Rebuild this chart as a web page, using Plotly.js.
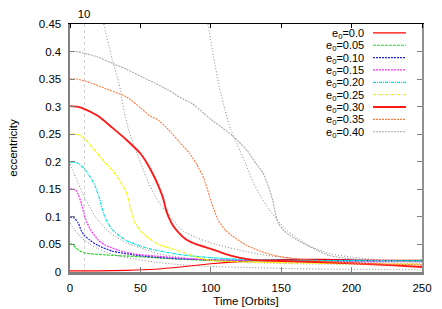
<!DOCTYPE html>
<html><head><meta charset="utf-8">
<script src="https://cdn.plot.ly/plotly-3.0.1.min.js"></script>
<style>body{margin:0;padding:0;background:#fff}#chart{width:442px;height:309px}</style>
</head><body><div id="chart"></div>
<script>
// ---- data ----
const seriesNames = ['e<sub>0</sub>=0.0','e<sub>0</sub>=0.05','e<sub>0</sub>=0.10','e<sub>0</sub>=0.15','e<sub>0</sub>=0.20','e<sub>0</sub>=0.25','e<sub>0</sub>=0.30','e<sub>0</sub>=0.35','e<sub>0</sub>=0.40'];

const t00 = [0,20,40,60,80,100,120,140,160,180,200,220,250];
const e00 = [0.002,0.002,0.003,0.005,0.0095,0.015,0.019,0.022,0.023,0.023,0.022,0.021,0.021];

const t05 = [0,2,4,7,10,15,25,40,60,80,100,150,200,250];
const e05 = [0.051,0.05,0.044,0.038,0.035,0.033,0.031,0.029,0.026,0.023,0.021,0.02,0.02,0.021];

const t10 = [0,3,6,8,10,14,20,30,45,70,100,150,200,250];
const e10 = [0.1,0.098,0.088,0.075,0.067,0.058,0.048,0.038,0.031,0.025,0.022,0.021,0.021,0.02];

const t15 = [0,4,6,8,10,12,15,20,25,35,45,60,80,100,150,200,250];
const e15 = [0.151,0.149,0.14,0.125,0.105,0.09,0.075,0.058,0.049,0.039,0.033,0.029,0.025,0.022,0.02,0.019,0.019];

const t20 = [0,5,10,15,18,21,24,27,30,35,40,50,60,80,100,130,170,250];
const e20 = [0.2,0.198,0.188,0.17,0.155,0.133,0.105,0.088,0.077,0.066,0.057,0.047,0.04,0.031,0.026,0.022,0.021,0.02];

const t25 = [0,6,10,16,25,30,35,40,43,46,50,55,63,70,80,90,100,150,200,250];
const e25 = [0.25,0.249,0.243,0.226,0.198,0.185,0.167,0.145,0.115,0.09,0.075,0.063,0.05,0.044,0.036,0.027,0.021,0.017,0.015,0.014];

const t30 = [0,5,10,20,30,40,50,55,60,63,66,68,70,73,77,82,90,100,110,120,130,150,200,230,250];
const e30 = [0.301,0.3,0.296,0.283,0.262,0.24,0.215,0.196,0.172,0.155,0.135,0.115,0.1,0.085,0.072,0.06,0.05,0.042,0.033,0.026,0.022,0.02,0.016,0.012,0.009];

const t35 = [0,5,10,16,28,40,50,56,63,70,78,85,90,95,99,102,105,110,115,125,135,145,160,200,250];
const e35 = [0.35,0.35,0.347,0.342,0.33,0.318,0.298,0.285,0.275,0.258,0.235,0.215,0.195,0.17,0.138,0.115,0.095,0.077,0.066,0.049,0.038,0.03,0.024,0.016,0.013];

const t40 = [0,5,10,20,28,40,52,60,70,78,87,95,100,108,115,120,126,132,137,141,144,146,148,152,156,162,168,175,184,195,210,250];
const e40 = [0.4,0.4,0.397,0.39,0.381,0.368,0.353,0.343,0.33,0.317,0.305,0.288,0.277,0.262,0.248,0.236,0.22,0.197,0.18,0.155,0.13,0.105,0.088,0.075,0.067,0.057,0.049,0.04,0.03,0.025,0.022,0.018];

// unlabelled dark dotted curves
const tA = [24,30,35,38.6,42,46,50,54,60,65,73,80,90,104,120,140,170,200,250];
const eA = [0.45,0.385,0.34,0.29,0.255,0.225,0.2,0.172,0.14,0.12,0.095,0.075,0.062,0.05,0.04,0.03,0.022,0.018,0.015];
const tB = [98,102,106,110,114,119,125,130,136,141,147,153,160,168,175,185,200,215,230,250];
const eB = [0.45,0.39,0.336,0.295,0.26,0.23,0.195,0.163,0.135,0.115,0.095,0.078,0.064,0.05,0.042,0.033,0.027,0.023,0.021,0.019];
const tC = [0,3,6,10,14,18,22,27,33,40,50,63,80,100,130,160,200,250];
const eC = [0.196,0.178,0.16,0.137,0.118,0.1,0.088,0.074,0.063,0.053,0.044,0.033,0.026,0.021,0.017,0.015,0.014,0.013];
const tD = [0,3,6,9,14,20,30,45,60,80,100,130,160,200,250];
const eD = [0.089,0.078,0.068,0.06,0.051,0.042,0.032,0.024,0.018,0.013,0.01,0.008,0.006,0.005,0.004];

const xTicks = [0,50,100,150,200,250];
const yTicks = [0,0.05,0.1,0.15,0.2,0.25,0.3,0.35,0.4,0.45];
const yTickText = ['0','0.05','0.1','0.15','0.2','0.25','0.3','0.35','0.4','0.45'];
const topTicks = [10];
const topTickText = ['10'];

// ---- styles ----
const styles = [
  {color:'#ff0000', width:1.2, dash:'solid'},
  {color:'#22dd22', width:1.2, dash:'3px,1px'},
  {color:'#2020e0', width:1.2, dash:'2px,1px'},
  {color:'#ff30ff', width:1.2, dash:'2px,1px'},
  {color:'#00e0e0', width:1.2, dash:'3px,1px,1px,1px'},
  {color:'#f2f200', width:1.2, dash:'3px,1px,1px,1px'},
  {color:'#ff1a1a', width:1.9, dash:'solid'},
  {color:'#ff7a40', width:1.1, dash:'2px,1px'},
  {color:'#a8a8a8', width:1.1, dash:'2px,1px'}
];
const seriesT = [t00,t05,t10,t15,t20,t25,t30,t35,t40];
const seriesE = [e00,e05,e10,e15,e20,e25,e30,e35,e40];

const traces = [];
[[tA,eA],[tB,eB],[tC,eC],[tD,eD]].forEach(p => traces.push({
  x:p[0], y:p[1], type:'scatter', mode:'lines', showlegend:false, hoverinfo:'skip',
  line:{color:'#777777', width:0.9, dash:'1px,2px', shape:'spline', smoothing:0.6}
}));
seriesT.forEach((t,i) => traces.push({
  x:t, y:seriesE[i], type:'scatter', mode:'lines', name:seriesNames[i], showlegend:false,
  line:{color:styles[i].color, width:styles[i].width, dash:styles[i].dash, shape:'spline', smoothing:0.6}
}));
traces.push({x:[null], y:[null], xaxis:'x2', yaxis:'y2', type:'scatter', mode:'lines', showlegend:false, hoverinfo:'skip'});

// ---- legend (gnuplot style: text left of sample) ----
const annotations = [], shapes = [];
const plotW = 352, plotH = 248;
seriesNames.forEach((n,i) => {
  const yc = 33.9 + i*12.35;          // pixel row centre
  const py = (272 - yc)/plotH;
  annotations.push({text:n, xref:'paper', yref:'paper', x:(366-70)/plotW, y:py, xanchor:'right', yanchor:'middle', showarrow:false, font:{size:11, color:'#000'}});
  shapes.push({type:'line', xref:'paper', yref:'paper', x0:(373-70)/plotW, x1:(406-70)/plotW, y0:py+0.004, y1:py+0.004,
    line:{color:styles[i].color, width:styles[i].width, dash:styles[i].dash}});
});

const font = {family:'"Liberation Sans", Arial, sans-serif', size:11.5, color:'#000'};
const layout = {
  width:442, height:309, margin:{l:70, r:20, t:24, b:37},
  paper_bgcolor:'#fff', plot_bgcolor:'#fff', font:font, showlegend:false,
  xaxis:{range:[0,250], tickmode:'array', tickvals:xTicks, ticks:'inside', ticklen:5, tickcolor:'#808080', tickwidth:1,
    showline:true, linecolor:'#808080', linewidth:2.5, zeroline:false, showgrid:false, ticklabelstandoff:4,
    title:{text:'Time [Orbits]', font:{size:11.5}, standoff:4}},
  yaxis:{range:[0,0.45], tickmode:'array', tickvals:yTicks, ticktext:yTickText, ticks:'inside', ticklen:5, tickcolor:'#808080',
    showline:true, linecolor:'#808080', linewidth:2.5, zeroline:false, showgrid:false, ticklabelstandoff:4,
    title:{text:'eccentricity', font:{size:11.5}, standoff:19}},
  xaxis2:{overlaying:'x', side:'top', range:[0,250], tickmode:'array', tickvals:topTicks, ticktext:topTickText, ticks:'',
    showgrid:true, gridcolor:'#d0d0d0', griddash:'dot', gridwidth:1, showline:true, linecolor:'#000', linewidth:1, zeroline:false,
    minor:{tickmode:'array', tickvals:xTicks, ticks:'inside', ticklen:4, tickcolor:'#000', showgrid:false}},
  yaxis2:{overlaying:'y', side:'right', range:[0,0.45], tickmode:'array', tickvals:yTicks, showticklabels:false, ticks:'inside', ticklen:5,
    tickcolor:'#808080', showline:true, linecolor:'#909090', linewidth:1.5, zeroline:false, showgrid:false},
  annotations:annotations, shapes:shapes
};
Plotly.newPlot('chart', traces, layout, {staticPlot:true, displayModeBar:false});
</script></body></html>
